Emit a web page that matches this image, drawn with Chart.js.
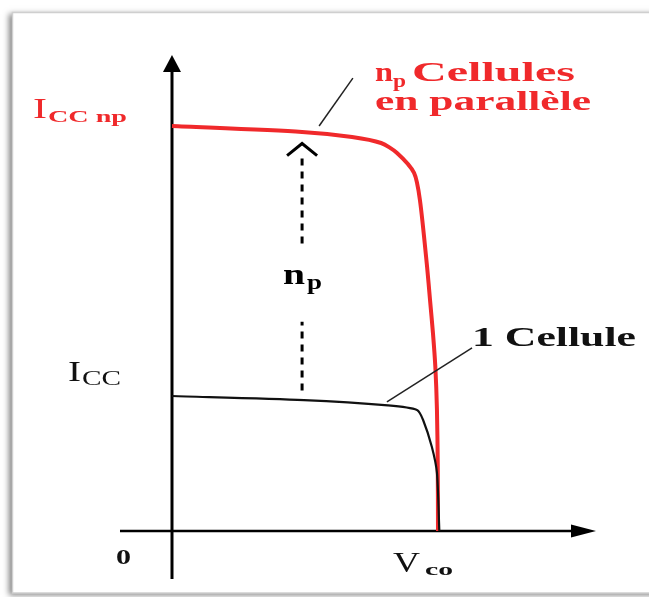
<!DOCTYPE html>
<html>
<head>
<meta charset="utf-8">
<script src="https://cdn.jsdelivr.net/npm/chart.js@4.4.1/dist/chart.umd.min.js"></script>
<style>
  html, body { margin: 0; padding: 0; background: #fff; }
  canvas { display: block; }
</style>
</head>
<body>
<canvas id="c" width="649" height="597"></canvas>
<script>
// I-V curve of one cell and of n_p cells in parallel (V in units of Vco, I in units of Icc)
const voltsOne = [0, 0.496, 0.812, 0.921, 0.944, 0.977, 0.996, 1.005];
const ampsOne = [1.0, 0.970, 0.930, 0.896, 0.822, 0.622, 0.430, 0];

const voltsNp = [0, 0.489, 0.677, 0.786, 0.846, 0.910, 0.932, 0.959, 0.970, 0.981, 0.990, 0.996, 0.999, 1.0];
const ampsNp = [3.0, 2.956, 2.919, 2.874, 2.800, 2.652, 2.452, 1.956, 1.711, 1.467, 1.215, 0.900, 0.500, 0];

const NP = 3; // I_cc np = n_p * I_cc
const labelNp = ["n", "p", "Cellules"];
const labelNp2 = "en parallèle";
const labelOne = "1 Cellule";
const tickOrigin = "0";
const tickVco = ["V", "co"];
const tickIcc = ["I", "CC"];
const tickIccNp = ["I", "CC np"];

const zip = (xs, ys) => xs.map((x, i) => ({ x: x, y: ys[i] }));

const RED = "#f0292b";
const SERIF = "'Liberation Serif', 'DejaVu Serif', serif";

// draw a string stretched to a given width (the picture is wide-set)
function txt(ctx, s, x, y, w, font, color) {
  ctx.font = font;
  const m = ctx.measureText(s).width;
  ctx.save();
  ctx.translate(x, y);
  ctx.scale(w / m, 1);
  ctx.fillStyle = color;
  ctx.textBaseline = "alphabetic";
  ctx.fillText(s, 0, 0);
  ctx.restore();
}

function line(ctx, x1, y1, x2, y2, w, color, dash) {
  ctx.save();
  ctx.beginPath();
  ctx.moveTo(x1, y1);
  ctx.lineTo(x2, y2);
  ctx.lineWidth = w;
  ctx.strokeStyle = color;
  ctx.setLineDash(dash || []);
  ctx.stroke();
  ctx.restore();
}

const diagram = {
  id: "diagram",
  beforeDraw(chart) {
    const ctx = chart.ctx;
    ctx.save();
    ctx.fillStyle = "#fff";
    ctx.fillRect(0, 0, chart.width, chart.height);
    // picture frame with soft shadow
    ctx.shadowColor = "rgba(0,0,0,0.5)";
    ctx.shadowBlur = 6;
    ctx.shadowOffsetX = -3;
    ctx.shadowOffsetY = 2;
    ctx.fillRect(12, 12, chart.width, 581);
    ctx.restore();
    ctx.save();
    ctx.strokeStyle = "#cfcfcf";
    ctx.lineWidth = 1.5;
    ctx.beginPath();
    ctx.moveTo(chart.width + 5, 12.5);
    ctx.lineTo(12.5, 12.5);
    ctx.lineTo(12.5, 593);
    ctx.lineTo(chart.width + 5, 593);
    ctx.stroke();
    ctx.restore();
  },
  beforeDatasetsDraw(chart) {
    const ctx = chart.ctx;
    const px = v => chart.scales.x.getPixelForValue(v);
    const py = v => chart.scales.y.getPixelForValue(v);
    const x0 = px(0), y0 = py(0);

    // axes with arrow heads
    line(ctx, x0 - 52, y0, px(1.5), y0, 2.5, "#000");
    line(ctx, x0, y0 + 48, x0, py(3.45), 3, "#000");
    ctx.save();
    ctx.fillStyle = "#000";
    ctx.beginPath();
    ctx.moveTo(px(1.594), y0);
    ctx.lineTo(px(1.5), y0 - 6.5);
    ctx.lineTo(px(1.5), y0 + 6.5);
    ctx.closePath();
    ctx.fill();
    ctx.beginPath();
    ctx.moveTo(x0, py(3.526));
    ctx.lineTo(x0 - 9, py(3.4));
    ctx.lineTo(x0 + 9, py(3.4));
    ctx.closePath();
    ctx.fill();
    ctx.restore();
  },
  afterDatasetsDraw(chart) {
    const ctx = chart.ctx;
    const px = v => chart.scales.x.getPixelForValue(v);
    const py = v => chart.scales.y.getPixelForValue(v);
    const x0 = px(0), y0 = py(0);

    // dashed n_p arrow from one cell to n_p cells
    const xa = px(0.489);
    line(ctx, xa, py(1.04), xa, py(1.55), 3, "#000", [7, 6]);
    line(ctx, xa, py(2.13), xa, py(2.80), 3, "#000", [7, 6]);
    ctx.save();
    ctx.beginPath();
    ctx.moveTo(xa - 15, py(2.78));
    ctx.lineTo(xa, py(2.87));
    ctx.lineTo(xa + 15, py(2.78));
    ctx.lineWidth = 3;
    ctx.strokeStyle = "#000";
    ctx.stroke();
    ctx.restore();
    txt(ctx, "n", xa - 19, py(1.83), 22, "bold 30px " + SERIF, "#000");
    txt(ctx, "p", xa + 5, py(1.79), 15, "bold 20px " + SERIF, "#000");

    // leader lines
    line(ctx, px(0.68), py(3.355), px(0.553), py(3.0), 1.5, "#222");
    line(ctx, px(1.128), py(1.356), px(0.808), py(0.956), 1.5, "#222");

    // red label
    txt(ctx, labelNp[0], 375, 81, 18, "bold 28px " + SERIF, RED);
    txt(ctx, labelNp[1], 393, 87, 13, "bold 19px " + SERIF, RED);
    txt(ctx, labelNp[2], 412, 81, 163, "bold 28px " + SERIF, RED);
    txt(ctx, labelNp2, 375, 110, 216, "bold 28px " + SERIF, RED);

    // black label
    txt(ctx, labelOne, 472, 346, 164, "bold 28px " + SERIF, "#111");

    // axis tick labels
    txt(ctx, tickIccNp[0], 33, py(NP) - 8, 14, "29px " + SERIF, RED);
    txt(ctx, tickIccNp[1], 48, py(NP) - 4, 79, "bold 17px " + SERIF, RED);
    txt(ctx, tickIcc[0], 68, py(1) - 15, 13, "29px " + SERIF, "#111");
    txt(ctx, tickIcc[1], 82, py(1) - 11, 39, "20px " + SERIF, "#111");
    txt(ctx, tickOrigin, x0 - 56, y0 + 33, 15, "bold 21px " + SERIF, "#111");
    txt(ctx, tickVco[0], px(0.831), y0 + 41, 27, "29px " + SERIF, "#111");
    txt(ctx, tickVco[1], px(0.951), y0 + 44, 28, "bold 17px " + SERIF, "#111");
  }
};

new Chart(document.getElementById("c"), {
  type: "scatter",
  data: {
    datasets: [
      {
        label: "1 Cellule",
        data: zip(voltsOne, ampsOne),
        showLine: true,
        borderColor: "#111",
        borderWidth: 2.2,
        pointRadius: 0,
        tension: 0.25,
      },
      {
        label: "np Cellules en parallèle",
        data: zip(voltsNp, ampsNp),
        showLine: true,
        borderColor: RED,
        borderWidth: 4,
        pointRadius: 0,
        tension: 0.25,
      },
    ],
  },
  options: {
    responsive: false,
    animation: false,
    layout: { padding: 0 },
    plugins: {
      legend: { display: false },
      tooltip: { enabled: false },
    },
    scales: {
      x: { type: "linear", min: -0.6466, max: 1.7932, display: false },
      y: { type: "linear", min: -0.4889, max: 3.9333, display: false },
    },
  },
  plugins: [diagram],
});
</script>
</body>
</html>
